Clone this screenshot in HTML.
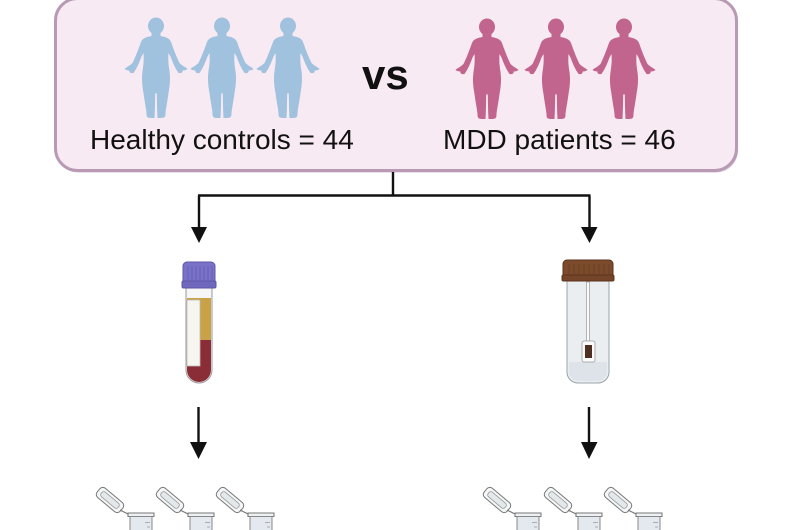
<!DOCTYPE html>
<html><head><meta charset="utf-8"><style>
html,body{margin:0;padding:0;background:#fff;}
svg{display:block;}
text{font-family:"Liberation Sans",Arial,sans-serif;}
</style></head><body>
<svg width="800" height="530" viewBox="0 0 800 530" xmlns="http://www.w3.org/2000/svg">
<defs>
  <g id="fig">
    <ellipse cx="0" cy="8" rx="8" ry="8.5"/>
    <path id="half" d="M 0.5,13 L -4.5,13 L -4.5,18 C -9.5,19 -13.5,20 -15,24 C -17.5,31 -20.5,39 -23.5,45 C -26.5,48 -29.5,49 -31.5,51 C -29.5,52.5 -27.5,52.5 -26.5,52.5 C -27,54.5 -25.5,55.5 -22.5,55 C -19,50 -16.5,44 -14.5,38.5 L -12.5,35 C -12,42 -12.5,47 -13.5,53 C -14.5,60 -14,67 -12.5,75 C -11.5,83 -10,90 -9.5,95 C -9.5,98 -9.5,100 -5,100 L -1.5,100 C -1,92 -1,84 -0.8,76 L 0.5,74 Z"/>
    <use href="#half" transform="scale(-1,1)"/>
  </g>
  <g id="ep">
    <g transform="translate(110,500) rotate(40)">
      <rect x="-15" y="-6" width="30" height="12" rx="4" fill="#f4f6f7" stroke="#777" stroke-width="1"/>
      <rect x="-11" y="-3" width="22" height="6" rx="2.5" fill="#e3e8eb" stroke="#999" stroke-width="0.8"/>
    </g>
    <path d="M120,510 L128,514" stroke="#777" stroke-width="1.2" fill="none"/>
    <rect x="128" y="513" width="26" height="3.5" fill="#eef1f3" stroke="#777" stroke-width="1"/>
    <rect x="130" y="516.5" width="22" height="20" fill="#e3e9ee" stroke="#888" stroke-width="1"/>
    <path d="M145,522.5 h5 M147,527 h3" stroke="#999" stroke-width="0.8"/>
  </g>
</defs>

<rect x="56" y="0.5" width="682" height="172" rx="22" fill="#a98ca6" opacity="0.5"/>
<rect x="55.5" y="-1.5" width="681" height="172" rx="22" fill="#f8eaf2" stroke="#b99ab5" stroke-width="3"/>

<g fill="#a0c2de">
  <use href="#fig" transform="translate(156,18)"/>
  <use href="#fig" transform="translate(222,18)"/>
  <use href="#fig" transform="translate(288,18)"/>
</g>
<g fill="#c1658e">
  <use href="#fig" transform="translate(487,19)"/>
  <use href="#fig" transform="translate(556,19)"/>
  <use href="#fig" transform="translate(624,19)"/>
</g>

<text x="362" y="89" font-size="42" font-weight="bold" fill="#111">vs</text>
<text x="90" y="149" font-size="28" fill="#111">Healthy controls = 44</text>
<text x="443" y="149" font-size="28" fill="#111">MDD patients = 46</text>

<g stroke="#111" stroke-width="2.4" fill="none">
  <path d="M393,172 V195.5 M198,195.5 H590.5 M199,195.5 V229 M589.5,195.5 V229"/>
  <path d="M198.5,407 V444 M589,407 V444"/>
</g>
<g fill="#111">
  <polygon points="191,227 207,227 199,243"/>
  <polygon points="581,227 597.5,227 589.5,243"/>
  <polygon points="190,442 207,442 198.5,459"/>
  <polygon points="581,442 597.5,442 589,459"/>
</g>

<g>
  <path d="M186,288 V370 A13,13 0 0 0 212,370 V288 Z" fill="#f3f3f3" stroke="#9a9a9a" stroke-width="1"/>
  <rect x="187" y="290" width="24" height="8" fill="#f6f6f6"/>
  <rect x="187" y="298" width="24" height="42" fill="#c9a247"/>
  <path d="M187,340 H211 V370 A12,12 0 0 1 187,370 Z" fill="#8a2d36"/>
  <rect x="187" y="300" width="13" height="66" fill="#f7f5ef" stroke="#bbb" stroke-width="0.8"/>
  <rect x="183" y="262" width="32" height="26" rx="4" fill="#7a72c8" stroke="#5d56a3" stroke-width="1"/>
  <rect x="182" y="281" width="34" height="7" rx="1.5" fill="#7068be" stroke="#5d56a3" stroke-width="1"/>
  <g stroke="#625bb0" stroke-width="0.8">
    <path d="M188,266 V280 M192,266 V280 M196,266 V280 M200,266 V280 M204,266 V280 M208,266 V280 M212,266 V280"/>
  </g>
</g>

<g>
  <path d="M567,280 V372 A11,11 0 0 0 578,383 H598 A11,11 0 0 0 609,372 V280 Z" fill="#eaeef1" stroke="#9aa3aa" stroke-width="1"/>
  <path d="M569,362 H607 V372 A9,9 0 0 1 598,381 H578 A9,9 0 0 1 569,372 Z" fill="#dde3e8"/>
  <rect x="586.5" y="282" width="3" height="60" fill="#fafafa" stroke="#999" stroke-width="0.7"/>
  <rect x="582" y="341" width="13" height="21" rx="2" fill="#fafafa" stroke="#999" stroke-width="0.8"/>
  <rect x="585" y="345" width="7" height="13" fill="#4d3022"/>
  <rect x="563" y="260" width="50" height="21" rx="4" fill="#7c4b2c" stroke="#5a331d" stroke-width="1"/>
  <rect x="562" y="275" width="52" height="6" rx="1.5" fill="#744528" stroke="#5a331d" stroke-width="1"/>
  <g stroke="#6a3e23" stroke-width="0.8">
    <path d="M569,264 V274 M574,264 V274 M579,264 V274 M584,264 V274 M589,264 V274 M594,264 V274 M599,264 V274 M604,264 V274 M609,264 V274"/>
  </g>
</g>

<use href="#ep"/>
<use href="#ep" transform="translate(60,0)"/>
<use href="#ep" transform="translate(120,0)"/>
<use href="#ep" transform="translate(387,0)"/>
<use href="#ep" transform="translate(448,0)"/>
<use href="#ep" transform="translate(508,0)"/>
</svg>
</body></html>
